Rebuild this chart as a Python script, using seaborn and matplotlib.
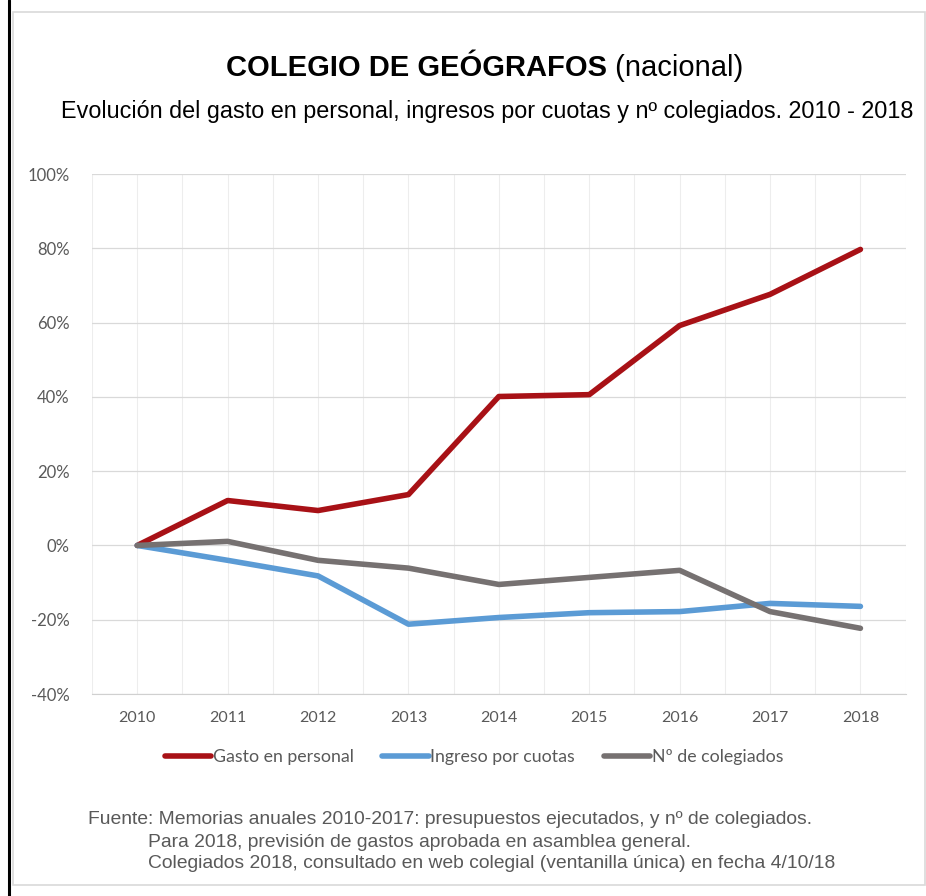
import numpy as np
import pandas as pd
import matplotlib.pyplot as plt
import seaborn as sns
from matplotlib.lines import Line2D
from matplotlib.patches import Rectangle
from matplotlib.ticker import PercentFormatter, MultipleLocator

years = [2010, 2011, 2012, 2013, 2014, 2015, 2016, 2017, 2018]
gasto_personal = [0, 12.1, 9.4, 13.7, 40.1, 40.6, 59.2, 67.6, 79.7]
ingreso_cuotas = [0, -4.0, -8.2, -21.2, -19.4, -18.1, -17.8, -15.6, -16.4]
num_colegiados = [0, 1.1, -4.0, -6.1, -10.5, -8.6, -6.7, -17.8, -22.3]

series_names = ['Gasto en personal', 'Ingreso por cuotas', 'Nº de colegiados']
colors = ['#A81116', '#5B9BD5', '#767171']

df = pd.DataFrame({
    'Año': years * 3,
    'Valor': gasto_personal + ingreso_cuotas + num_colegiados,
    'Serie': np.repeat(series_names, len(years)),
})

sns.set_style('white')
plt.rcParams['font.family'] = ['Liberation Sans', 'DejaVu Sans']
plt.rcParams['axes.unicode_minus'] = False

fig = plt.figure(figsize=(9.26, 8.96), dpi=100)

# page border + frame
fig.add_artist(Line2D([0.0097, 0.0097], [0, 1], color='black', lw=2.2))
fig.add_artist(Rectangle((0.014, 0.012), 0.985, 0.975, transform=fig.transFigure,
                         fill=False, edgecolor='#D9D9D9', lw=1.2))

ax = fig.add_axes([0.0994, 0.2254, 0.8786, 0.5804])
sns.lineplot(data=df, x='Año', y='Valor', hue='Serie', palette=colors,
             linewidth=4.0, ax=ax, legend=False)

ax.set_xlim(2009.5, 2018.5)
ax.set_ylim(-40, 100)
ax.set_xticks(years)
ax.xaxis.set_minor_locator(MultipleLocator(0.5))
ax.yaxis.set_major_locator(MultipleLocator(20))
ax.yaxis.set_major_formatter(PercentFormatter(decimals=0))
ax.grid(which='major', axis='y', color='#D9D9D9', lw=0.9)
ax.grid(which='both', axis='x', color='#EDEDED', lw=0.8)
ax.set_axisbelow(True)
for side in ['top', 'right', 'left']:
    ax.spines[side].set_visible(False)
ax.spines['bottom'].set_color('#D0D0D0')
ax.tick_params(axis='both', which='both', length=0, colors='#595959')
ax.tick_params(axis='x', pad=12, labelsize=11.5)
ax.tick_params(axis='y', pad=16, labelsize=12)
for lab in ax.get_xticklabels() + ax.get_yticklabels():
    lab.set_family(['Lato', 'DejaVu Sans'])
ax.set_xlabel('')
ax.set_ylabel('')

handles = [Line2D([], [], color=c, lw=4.0) for c in colors]
leg = fig.legend(handles, series_names, loc='center', bbox_to_anchor=(0.512, 0.155), ncol=3,
                 frameon=False, handlelength=2.6, handletextpad=0.1, columnspacing=1.6,
                 prop={'family': ['Lato', 'DejaVu Sans'], 'size': 12.8})
for t in leg.get_texts():
    t.set_color('#595959')

# titles
fig.text(0.655, 0.924, 'COLEGIO DE GEÓGRAFOS', ha='right', va='center',
         fontsize=21, fontweight='bold', color='black')
fig.text(0.655, 0.924, ' (nacional)', ha='left', va='center', fontsize=21, color='black')
fig.text(0.526, 0.876, 'Evolución del gasto en personal, ingresos por cuotas y nº colegiados. 2010 - 2018',
         ha='center', va='center', fontsize=16.8, color='black')

# footnote
fn_size = 13.9
fig.text(0.095, 0.085, 'Fuente: Memorias anuales 2010-2017: presupuestos ejecutados, y nº de colegiados.',
         ha='left', va='center', fontsize=fn_size, color='#595959')
fig.text(0.160, 0.060, 'Para 2018, previsión de gastos aprobada en asamblea general.',
         ha='left', va='center', fontsize=fn_size, color='#595959')
fig.text(0.160, 0.036, 'Colegiados 2018, consultado en web colegial (ventanilla única) en fecha 4/10/18',
         ha='left', va='center', fontsize=fn_size, color='#595959')

fig.savefig('out.png', dpi=100, facecolor='white')
